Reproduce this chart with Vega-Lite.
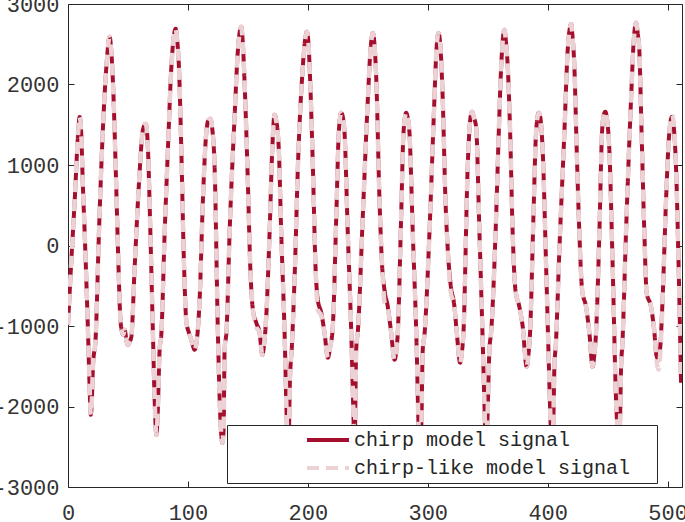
{
  "$schema": "https://vega.github.io/schema/vega-lite/v6.json",
  "width": 614,
  "height": 483,
  "autosize": "none",
  "padding": {"left": 68, "top": 4, "right": 3, "bottom": 35},
  "background": "white",
  "config": {
    "view": {"stroke": "#262626", "strokeWidth": 1},
    "font": "Liberation Mono",
    "axis": {"grid": false, "domain": false, "title": null, "tickSize": -6, "tickColor": "#262626", "labelFont": "Liberation Mono", "labelFontSize": 22, "labelColor": "#333333", "labelFlush": false, "labelOverlap": false, "labelBound": false}
  },
  "data": {"values": [
    {"x":0,"chirp model signal":-985,"chirp-like model signal":-985},
    {"x":2.7,"chirp model signal":-205,"chirp-like model signal":-205},
    {"x":5.6,"chirp model signal":565,"chirp-like model signal":565},
    {"x":8.1,"chirp model signal":1311,"chirp-like model signal":1311},
    {"x":9.75,"chirp model signal":1597,"chirp-like model signal":1597},
    {"x":11.2,"chirp model signal":1338,"chirp-like model signal":1338},
    {"x":12.25,"chirp model signal":816,"chirp-like model signal":816},
    {"x":13.9,"chirp model signal":158,"chirp-like model signal":158},
    {"x":16.7,"chirp model signal":-1084,"chirp-like model signal":-1084},
    {"x":18.1,"chirp model signal":-1792,"chirp-like model signal":-1792},
    {"x":19,"chirp model signal":-2103,"chirp-like model signal":-2103},
    {"x":19.75,"chirp model signal":-1979,"chirp-like model signal":-1979},
    {"x":20.8,"chirp model signal":-1507,"chirp-like model signal":-1507},
    {"x":23.1,"chirp model signal":-1134,"chirp-like model signal":-1134},
    {"x":25.8,"chirp model signal":158,"chirp-like model signal":158},
    {"x":28.7,"chirp model signal":1313,"chirp-like model signal":1313},
    {"x":32,"chirp model signal":2220,"chirp-like model signal":2220},
    {"x":34.75,"chirp model signal":2593,"chirp-like model signal":2593},
    {"x":36,"chirp model signal":2430,"chirp-like model signal":2430},
    {"x":37.5,"chirp model signal":2021,"chirp-like model signal":2021},
    {"x":39.75,"chirp model signal":978,"chirp-like model signal":978},
    {"x":41.7,"chirp model signal":-53,"chirp-like model signal":-53},
    {"x":43.9,"chirp model signal":-960,"chirp-like model signal":-960},
    {"x":46,"chirp model signal":-1109,"chirp-like model signal":-1109},
    {"x":47.25,"chirp model signal":-1047,"chirp-like model signal":-1047},
    {"x":48.9,"chirp model signal":-1196,"chirp-like model signal":-1196},
    {"x":50,"chirp model signal":-1233,"chirp-like model signal":-1233},
    {"x":51.4,"chirp model signal":-1196,"chirp-like model signal":-1196},
    {"x":52.8,"chirp model signal":-1134,"chirp-like model signal":-1134},
    {"x":55.6,"chirp model signal":-265,"chirp-like model signal":-265},
    {"x":59.2,"chirp model signal":779,"chirp-like model signal":779},
    {"x":62.5,"chirp model signal":1437,"chirp-like model signal":1437},
    {"x":64.75,"chirp model signal":1512,"chirp-like model signal":1512},
    {"x":65.75,"chirp model signal":1437,"chirp-like model signal":1437},
    {"x":66.7,"chirp model signal":1189,"chirp-like model signal":1189},
    {"x":68.7,"chirp model signal":158,"chirp-like model signal":158},
    {"x":70.8,"chirp model signal":-1084,"chirp-like model signal":-1084},
    {"x":72.25,"chirp model signal":-1917,"chirp-like model signal":-1917},
    {"x":73.7,"chirp model signal":-2351,"chirp-like model signal":-2351},
    {"x":74.75,"chirp model signal":-2103,"chirp-like model signal":-2103},
    {"x":76.4,"chirp model signal":-1296,"chirp-like model signal":-1296},
    {"x":77.8,"chirp model signal":-1109,"chirp-like model signal":-1109},
    {"x":80.6,"chirp model signal":158,"chirp-like model signal":158},
    {"x":83.3,"chirp model signal":1189,"chirp-like model signal":1189},
    {"x":86.2,"chirp model signal":2220,"chirp-like model signal":2220},
    {"x":88.1,"chirp model signal":2580,"chirp-like model signal":2580},
    {"x":89.75,"chirp model signal":2692,"chirp-like model signal":2692},
    {"x":91,"chirp model signal":2555,"chirp-like model signal":2555},
    {"x":92.5,"chirp model signal":2220,"chirp-like model signal":2220},
    {"x":94.5,"chirp model signal":1189,"chirp-like model signal":1189},
    {"x":96.4,"chirp model signal":-53,"chirp-like model signal":-53},
    {"x":98.7,"chirp model signal":-947,"chirp-like model signal":-947},
    {"x":100.6,"chirp model signal":-1072,"chirp-like model signal":-1072},
    {"x":102.25,"chirp model signal":-1146,"chirp-like model signal":-1146},
    {"x":103.9,"chirp model signal":-1233,"chirp-like model signal":-1233},
    {"x":105.6,"chirp model signal":-1295,"chirp-like model signal":-1295},
    {"x":107.25,"chirp model signal":-1196,"chirp-like model signal":-1196},
    {"x":109.75,"chirp model signal":-675,"chirp-like model signal":-675},
    {"x":112.5,"chirp model signal":568,"chirp-like model signal":568},
    {"x":115.3,"chirp model signal":1400,"chirp-like model signal":1400},
    {"x":117.25,"chirp model signal":1561,"chirp-like model signal":1561},
    {"x":118.7,"chirp model signal":1573,"chirp-like model signal":1573},
    {"x":120.2,"chirp model signal":1462,"chirp-like model signal":1462},
    {"x":122.25,"chirp model signal":978,"chirp-like model signal":978},
    {"x":125,"chirp model signal":-1084,"chirp-like model signal":-1084},
    {"x":127,"chirp model signal":-2128,"chirp-like model signal":-2128},
    {"x":128.7,"chirp model signal":-2451,"chirp-like model signal":-2451},
    {"x":129.75,"chirp model signal":-2289,"chirp-like model signal":-2289},
    {"x":130.6,"chirp model signal":-1296,"chirp-like model signal":-1296},
    {"x":132.25,"chirp model signal":-1047,"chirp-like model signal":-1047},
    {"x":134.75,"chirp model signal":158,"chirp-like model signal":158},
    {"x":138.9,"chirp model signal":1598,"chirp-like model signal":1598},
    {"x":141.7,"chirp model signal":2430,"chirp-like model signal":2430},
    {"x":143.5,"chirp model signal":2679,"chirp-like model signal":2679},
    {"x":144.5,"chirp model signal":2716,"chirp-like model signal":2716},
    {"x":145.6,"chirp model signal":2555,"chirp-like model signal":2555},
    {"x":147.25,"chirp model signal":2021,"chirp-like model signal":2021},
    {"x":150,"chirp model signal":779,"chirp-like model signal":779},
    {"x":152,"chirp model signal":-265,"chirp-like model signal":-265},
    {"x":154.2,"chirp model signal":-799,"chirp-like model signal":-799},
    {"x":157,"chirp model signal":-960,"chirp-like model signal":-1010},
    {"x":159.75,"chirp model signal":-1084,"chirp-like model signal":-1084},
    {"x":162,"chirp model signal":-1357,"chirp-like model signal":-1357},
    {"x":163.5,"chirp model signal":-1233,"chirp-like model signal":-1233},
    {"x":165.3,"chirp model signal":-885,"chirp-like model signal":-885},
    {"x":168.1,"chirp model signal":158,"chirp-like model signal":158},
    {"x":170.3,"chirp model signal":1189,"chirp-like model signal":1189},
    {"x":172.25,"chirp model signal":1623,"chirp-like model signal":1623},
    {"x":173.5,"chirp model signal":1561,"chirp-like model signal":1561},
    {"x":175.8,"chirp model signal":1189,"chirp-like model signal":1189},
    {"x":177.8,"chirp model signal":158,"chirp-like model signal":158},
    {"x":180.6,"chirp model signal":-1084,"chirp-like model signal":-1084},
    {"x":182.5,"chirp model signal":-2202,"chirp-like model signal":-2202},
    {"x":183.75,"chirp model signal":-2600,"chirp-like model signal":-2600},
    {"x":185,"chirp model signal":-1705,"chirp-like model signal":-1705},
    {"x":186.75,"chirp model signal":-1233,"chirp-like model signal":-1233},
    {"x":189.25,"chirp model signal":-265,"chirp-like model signal":-265},
    {"x":191.7,"chirp model signal":977,"chirp-like model signal":977},
    {"x":195.8,"chirp model signal":2219,"chirp-like model signal":2219},
    {"x":197.7,"chirp model signal":2555,"chirp-like model signal":2555},
    {"x":199.2,"chirp model signal":2654,"chirp-like model signal":2654},
    {"x":200.6,"chirp model signal":2493,"chirp-like model signal":2493},
    {"x":202,"chirp model signal":2021,"chirp-like model signal":2021},
    {"x":204.2,"chirp model signal":977,"chirp-like model signal":977},
    {"x":206.4,"chirp model signal":-265,"chirp-like model signal":-265},
    {"x":208.3,"chirp model signal":-675,"chirp-like model signal":-800},
    {"x":211.2,"chirp model signal":-836,"chirp-like model signal":-870},
    {"x":213.9,"chirp model signal":-1084,"chirp-like model signal":-1084},
    {"x":216.7,"chirp model signal":-1394,"chirp-like model signal":-1394},
    {"x":218.5,"chirp model signal":-1270,"chirp-like model signal":-1270},
    {"x":220.8,"chirp model signal":-1010,"chirp-like model signal":-1010},
    {"x":223.7,"chirp model signal":357,"chirp-like model signal":357},
    {"x":225.8,"chirp model signal":1400,"chirp-like model signal":1400},
    {"x":227.8,"chirp model signal":1648,"chirp-like model signal":1648},
    {"x":229.3,"chirp model signal":1586,"chirp-like model signal":1586},
    {"x":230.6,"chirp model signal":1400,"chirp-like model signal":1400},
    {"x":233.3,"chirp model signal":158,"chirp-like model signal":158},
    {"x":236.2,"chirp model signal":-1084,"chirp-like model signal":-1084},
    {"x":238.1,"chirp model signal":-2165,"chirp-like model signal":-2165},
    {"x":238.9,"chirp model signal":-2662,"chirp-like model signal":-2662},
    {"x":240.3,"chirp model signal":-1296,"chirp-like model signal":-1296},
    {"x":241.8,"chirp model signal":-1047,"chirp-like model signal":-1047},
    {"x":245.8,"chirp model signal":357,"chirp-like model signal":357},
    {"x":250,"chirp model signal":1810,"chirp-like model signal":1810},
    {"x":252.25,"chirp model signal":2430,"chirp-like model signal":2430},
    {"x":254.2,"chirp model signal":2641,"chirp-like model signal":2641},
    {"x":255.6,"chirp model signal":2493,"chirp-like model signal":2493},
    {"x":257,"chirp model signal":2095,"chirp-like model signal":2095},
    {"x":259.75,"chirp model signal":567,"chirp-like model signal":567},
    {"x":262,"chirp model signal":-265,"chirp-like model signal":-265},
    {"x":263.9,"chirp model signal":-551,"chirp-like model signal":-700},
    {"x":266.7,"chirp model signal":-762,"chirp-like model signal":-790},
    {"x":269.5,"chirp model signal":-1084,"chirp-like model signal":-1084},
    {"x":272.25,"chirp model signal":-1420,"chirp-like model signal":-1420},
    {"x":273.9,"chirp model signal":-1296,"chirp-like model signal":-1296},
    {"x":275,"chirp model signal":-1084,"chirp-like model signal":-1084},
    {"x":277.8,"chirp model signal":357,"chirp-like model signal":357},
    {"x":279.75,"chirp model signal":1400,"chirp-like model signal":1400},
    {"x":282,"chirp model signal":1648,"chirp-like model signal":1648},
    {"x":283.3,"chirp model signal":1586,"chirp-like model signal":1586},
    {"x":284.75,"chirp model signal":1400,"chirp-like model signal":1400},
    {"x":287.5,"chirp model signal":158,"chirp-like model signal":158},
    {"x":290.8,"chirp model signal":-1296,"chirp-like model signal":-1296},
    {"x":292.25,"chirp model signal":-2215,"chirp-like model signal":-2215},
    {"x":293.5,"chirp model signal":-2662,"chirp-like model signal":-2662},
    {"x":294.75,"chirp model signal":-2165,"chirp-like model signal":-2165},
    {"x":295.8,"chirp model signal":-1296,"chirp-like model signal":-1296},
    {"x":297.25,"chirp model signal":-1109,"chirp-like model signal":-1109},
    {"x":301.4,"chirp model signal":158,"chirp-like model signal":158},
    {"x":305,"chirp model signal":1598,"chirp-like model signal":1598},
    {"x":307.25,"chirp model signal":2430,"chirp-like model signal":2430},
    {"x":308.9,"chirp model signal":2641,"chirp-like model signal":2641},
    {"x":310.6,"chirp model signal":2455,"chirp-like model signal":2455},
    {"x":312.5,"chirp model signal":1810,"chirp-like model signal":1810},
    {"x":314.75,"chirp model signal":567,"chirp-like model signal":567},
    {"x":316.7,"chirp model signal":-53,"chirp-like model signal":-53},
    {"x":318.9,"chirp model signal":-463,"chirp-like model signal":-560},
    {"x":322.25,"chirp model signal":-762,"chirp-like model signal":-762},
    {"x":324.2,"chirp model signal":-1084,"chirp-like model signal":-1084},
    {"x":327,"chirp model signal":-1457,"chirp-like model signal":-1457},
    {"x":328.5,"chirp model signal":-1320,"chirp-like model signal":-1320},
    {"x":329.75,"chirp model signal":-1084,"chirp-like model signal":-1084},
    {"x":333.3,"chirp model signal":977,"chirp-like model signal":977},
    {"x":335.6,"chirp model signal":1586,"chirp-like model signal":1586},
    {"x":337,"chirp model signal":1661,"chirp-like model signal":1661},
    {"x":338.5,"chirp model signal":1586,"chirp-like model signal":1586},
    {"x":340.3,"chirp model signal":1475,"chirp-like model signal":1475},
    {"x":343.1,"chirp model signal":158,"chirp-like model signal":158},
    {"x":346.4,"chirp model signal":-1507,"chirp-like model signal":-1507},
    {"x":347.7,"chirp model signal":-2215,"chirp-like model signal":-2215},
    {"x":348.5,"chirp model signal":-2662,"chirp-like model signal":-2662},
    {"x":349.75,"chirp model signal":-2165,"chirp-like model signal":-2165},
    {"x":351.4,"chirp model signal":-1296,"chirp-like model signal":-1296},
    {"x":352.8,"chirp model signal":-1084,"chirp-like model signal":-1084},
    {"x":357,"chirp model signal":357,"chirp-like model signal":357},
    {"x":359.2,"chirp model signal":1400,"chirp-like model signal":1400},
    {"x":361.2,"chirp model signal":2219,"chirp-like model signal":2219},
    {"x":362.7,"chirp model signal":2579,"chirp-like model signal":2579},
    {"x":363.9,"chirp model signal":2679,"chirp-like model signal":2679},
    {"x":365.2,"chirp model signal":2530,"chirp-like model signal":2530},
    {"x":366.7,"chirp model signal":2219,"chirp-like model signal":2219},
    {"x":368.7,"chirp model signal":1400,"chirp-like model signal":1400},
    {"x":370.8,"chirp model signal":158,"chirp-like model signal":158},
    {"x":373.1,"chirp model signal":-551,"chirp-like model signal":-551},
    {"x":376.4,"chirp model signal":-762,"chirp-like model signal":-762},
    {"x":379.2,"chirp model signal":-1010,"chirp-like model signal":-1010},
    {"x":382.5,"chirp model signal":-1507,"chirp-like model signal":-1507},
    {"x":383.9,"chirp model signal":-1357,"chirp-like model signal":-1357},
    {"x":385.3,"chirp model signal":-1084,"chirp-like model signal":-1084},
    {"x":388.1,"chirp model signal":357,"chirp-like model signal":357},
    {"x":390.3,"chirp model signal":1400,"chirp-like model signal":1400},
    {"x":392.5,"chirp model signal":1648,"chirp-like model signal":1648},
    {"x":393.9,"chirp model signal":1586,"chirp-like model signal":1586},
    {"x":395.8,"chirp model signal":1189,"chirp-like model signal":1189},
    {"x":398.7,"chirp model signal":-265,"chirp-like model signal":-265},
    {"x":401.4,"chirp model signal":-1706,"chirp-like model signal":-1706},
    {"x":402.4,"chirp model signal":-2215,"chirp-like model signal":-2215},
    {"x":403.5,"chirp model signal":-2724,"chirp-like model signal":-2724},
    {"x":404.75,"chirp model signal":-2165,"chirp-like model signal":-2165},
    {"x":405.6,"chirp model signal":-1507,"chirp-like model signal":-1507},
    {"x":406.8,"chirp model signal":-1233,"chirp-like model signal":-1233},
    {"x":409.75,"chirp model signal":-53,"chirp-like model signal":-53},
    {"x":413.9,"chirp model signal":1400,"chirp-like model signal":1400},
    {"x":416.7,"chirp model signal":2430,"chirp-like model signal":2430},
    {"x":418.5,"chirp model signal":2703,"chirp-like model signal":2703},
    {"x":419.5,"chirp model signal":2753,"chirp-like model signal":2753},
    {"x":420.6,"chirp model signal":2617,"chirp-like model signal":2617},
    {"x":422.25,"chirp model signal":2219,"chirp-like model signal":2219},
    {"x":424.2,"chirp model signal":1189,"chirp-like model signal":1189},
    {"x":426.4,"chirp model signal":158,"chirp-like model signal":158},
    {"x":428.7,"chirp model signal":-551,"chirp-like model signal":-551},
    {"x":432,"chirp model signal":-762,"chirp-like model signal":-762},
    {"x":434.75,"chirp model signal":-1084,"chirp-like model signal":-1084},
    {"x":437.5,"chirp model signal":-1507,"chirp-like model signal":-1507},
    {"x":438.9,"chirp model signal":-1357,"chirp-like model signal":-1357},
    {"x":440.3,"chirp model signal":-1084,"chirp-like model signal":-1084},
    {"x":443.1,"chirp model signal":158,"chirp-like model signal":158},
    {"x":445.3,"chirp model signal":1400,"chirp-like model signal":1400},
    {"x":446.8,"chirp model signal":1623,"chirp-like model signal":1623},
    {"x":448.1,"chirp model signal":1661,"chirp-like model signal":1661},
    {"x":449.3,"chirp model signal":1586,"chirp-like model signal":1586},
    {"x":451.4,"chirp model signal":1189,"chirp-like model signal":1189},
    {"x":454.2,"chirp model signal":-265,"chirp-like model signal":-265},
    {"x":457,"chirp model signal":-1917,"chirp-like model signal":-1917},
    {"x":458.1,"chirp model signal":-2289,"chirp-like model signal":-2289},
    {"x":459.2,"chirp model signal":-2786,"chirp-like model signal":-2786},
    {"x":460.2,"chirp model signal":-2289,"chirp-like model signal":-2289},
    {"x":461.2,"chirp model signal":-1507,"chirp-like model signal":-1507},
    {"x":462.25,"chirp model signal":-1233,"chirp-like model signal":-1233},
    {"x":465.3,"chirp model signal":158,"chirp-like model signal":158},
    {"x":469.5,"chirp model signal":1810,"chirp-like model signal":1810},
    {"x":471.8,"chirp model signal":2555,"chirp-like model signal":2555},
    {"x":473.7,"chirp model signal":2766,"chirp-like model signal":2766},
    {"x":475.2,"chirp model signal":2617,"chirp-like model signal":2617},
    {"x":476.4,"chirp model signal":2430,"chirp-like model signal":2430},
    {"x":478.3,"chirp model signal":1400,"chirp-like model signal":1400},
    {"x":480.6,"chirp model signal":158,"chirp-like model signal":158},
    {"x":482.5,"chirp model signal":-587,"chirp-like model signal":-587},
    {"x":486.2,"chirp model signal":-762,"chirp-like model signal":-762},
    {"x":489,"chirp model signal":-1084,"chirp-like model signal":-1084},
    {"x":490.6,"chirp model signal":-1357,"chirp-like model signal":-1400},
    {"x":492.5,"chirp model signal":-1420,"chirp-like model signal":-1540},
    {"x":494,"chirp model signal":-1233,"chirp-like model signal":-1300},
    {"x":495.8,"chirp model signal":-675,"chirp-like model signal":-675},
    {"x":498.7,"chirp model signal":567,"chirp-like model signal":567},
    {"x":501.4,"chirp model signal":1400,"chirp-like model signal":1400},
    {"x":503.7,"chirp model signal":1598,"chirp-like model signal":1620},
    {"x":505.2,"chirp model signal":1462,"chirp-like model signal":1500},
    {"x":507,"chirp model signal":977,"chirp-like model signal":977},
    {"x":509.2,"chirp model signal":-265,"chirp-like model signal":-265},
    {"x":511.2,"chirp model signal":-1706,"chirp-like model signal":-1650}
  ]},
  "transform": [{"fold": ["chirp model signal", "chirp-like model signal"], "as": ["series", "value"]}],
  "encoding": {
    "color": {"field": "series", "type": "nominal",
      "scale": {"domain": ["chirp model signal", "chirp-like model signal"], "range": ["#A50F2E", "#ECD2D5"]},
      "legend": {"orient": "none", "legendX": 159, "legendY": 421, "title": ".", "titleOrient": "right", "titleColor": "rgba(0,0,0,0)", "titleFontSize": 4, "titlePadding": 20, "strokeColor": "#262626", "fillColor": "white", "padding": 4, "labelFont": "Liberation Mono", "labelFontSize": 20, "labelColor": "#262626", "labelLimit": 500, "symbolType": "stroke", "symbolSize": 1764, "symbolStrokeWidth": 4, "symbolOffset": 74, "labelOffset": 3, "clipHeight": 22, "rowPadding": 6}},
    "strokeDash": {"field": "series", "type": "nominal",
      "scale": {"domain": ["chirp model signal", "chirp-like model signal"], "range": [[1, 0], [12, 7]]},
      "legend": {"orient": "none", "legendX": 159, "legendY": 421, "title": ".", "titleOrient": "right", "titleColor": "rgba(0,0,0,0)", "titleFontSize": 4, "titlePadding": 20, "strokeColor": "#262626", "fillColor": "white", "padding": 4, "labelFont": "Liberation Mono", "labelFontSize": 20, "labelColor": "#262626", "labelLimit": 500, "symbolType": "stroke", "symbolSize": 1764, "symbolStrokeWidth": 4, "symbolOffset": 74, "labelOffset": 3, "clipHeight": 22, "rowPadding": 6}}
  },
  "layer": [
    {
      "transform": [{"filter": "datum.series === 'chirp model signal'"}],
      "mark": {"type": "line", "strokeWidth": 4, "interpolate": "monotone", "clip": true},
      "encoding": {
        "x": {"field": "x", "type": "quantitative", "scale": {"domain": [0, 512], "nice": false, "zero": false},
          "axis": {"orient": "bottom", "values": [0, 100, 200, 300, 400, 500], "labelPadding": 21}},
        "y": {"field": "value", "type": "quantitative", "scale": {"domain": [-3000, 3000], "nice": false},
          "axis": {"orient": "left", "values": [-3000, -2000, -1000, 0, 1000, 2000, 3000], "labelPadding": 15, "labelExpr": "'' + datum.value"}}
      }
    },
    {
      "transform": [{"filter": "datum.series === 'chirp-like model signal'"}],
      "mark": {"type": "line", "strokeWidth": 4.5, "interpolate": "monotone", "clip": true},
      "encoding": {
        "x": {"field": "x", "type": "quantitative", "scale": {"domain": [0, 512], "nice": false, "zero": false},
          "axis": {"orient": "top", "values": [0, 100, 200, 300, 400, 500], "labels": false}},
        "y": {"field": "value", "type": "quantitative", "scale": {"domain": [-3000, 3000], "nice": false},
          "axis": {"orient": "right", "values": [-3000, -2000, -1000, 0, 1000, 2000, 3000], "labels": false}}
      }
    }
  ],
  "resolve": {"axis": {"x": "independent", "y": "independent"}}
}
